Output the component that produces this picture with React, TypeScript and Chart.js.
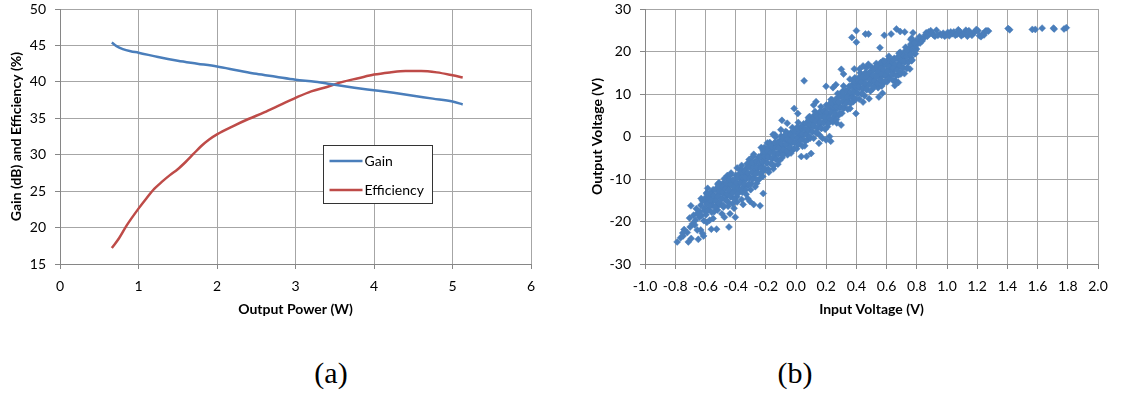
import React, { useEffect, useRef } from 'react';
import { Chart, registerables } from 'chart.js';

Chart.register(...registerables);

const FONT = "Lato, 'Open Sans', sans-serif";

// ---------- Chart (a) data ----------
const gainPower = [0.66, 0.72, 0.8, 0.9, 1.0, 1.25, 1.5, 1.75, 2.0, 2.25, 2.5, 2.75, 3.0, 3.25, 3.5, 3.75, 4.0, 4.25, 4.5, 4.75, 5.0, 5.13];
const gainDb = [45.4, 44.9, 44.5, 44.2, 44.0, 43.4, 42.9, 42.5, 42.1, 41.6, 41.1, 40.7, 40.3, 40.0, 39.6, 39.2, 38.85, 38.5, 38.1, 37.7, 37.3, 36.9];
const effPower = [0.66, 0.75, 0.85, 1.0, 1.1, 1.2, 1.3, 1.4, 1.5, 1.6, 1.7, 1.8, 1.9, 2.0, 2.2, 2.4, 2.6, 2.8, 3.0, 3.2, 3.4, 3.6, 3.8, 4.0, 4.2, 4.4, 4.6, 4.8, 5.0, 5.13];
const efficiencyPct = [17.2, 18.5, 20.3, 22.6, 24.0, 25.3, 26.3, 27.2, 28.0, 29.0, 30.1, 31.2, 32.1, 32.8, 33.9, 34.9, 35.8, 36.8, 37.8, 38.7, 39.3, 40.0, 40.5, 41.0, 41.3, 41.5, 41.5, 41.3, 40.9, 40.6];
const powerTicks = [0, 1, 2, 3, 4, 5, 6];
const gainTicks = [15, 20, 25, 30, 35, 40, 45, 50];
const seriesNamesA = ['Gain', 'Efficiency'];

// ---------- Chart (b) data ----------
const inputTicks = [-1.0, -0.8, -0.6, -0.4, -0.2, 0.0, 0.2, 0.4, 0.6, 0.8, 1.0, 1.2, 1.4, 1.6, 1.8, 2.0];
const outputTicks = [-30, -20, -10, 0, 10, 20, 30];
const scatterPoints: [number, number][] = [
  // lower tail
  [-0.787, -24.8], [-0.764, -23.8], [-0.748, -23.4], [-0.741, -21.9], [-0.713, -24.8], [-0.694, -24.0], [-0.701, -21.3], [-0.685, -20.5],
  [-0.666, -19.7], [-0.654, -22.0], [-0.631, -22.0], [-0.619, -22.8], [-0.612, -23.4], [-0.647, -24.2], [-0.678, -18.5], [-0.654, -18.1],
  [-0.636, -17.7], [-0.696, -16.3], [-0.561, -21.8], [-0.526, -21.8], [-0.444, -21.3], [-0.402, -19.0], [-0.474, -19.0], [-0.437, -18.2],
  [-0.607, -17.4], [-0.631, -16.2], [-0.619, -15.1], [-0.596, -14.7], [-0.572, -19.7], [-0.549, -19.3], [-0.238, -16.3], [-0.280, -16.0],
  [-0.304, -15.3], [-0.217, -13.4], [-0.491, -18.2], [-0.72, -22.6], [-0.67, -20.8], [-0.64, -19.0], [-0.625, -18.6], [-0.66, -17.0],
  [-0.628, -14.6], [-0.61, -19.8], [-0.59, -20.2], [-0.75, -22.7], [-0.705, -19.2],
  // lower side of band
  [-0.48, -16.6], [-0.45, -16.4], [-0.42, -15.8], [-0.39, -15.4], [-0.36, -14.8], [-0.33, -13.6], [-0.3, -12.5], [-0.27, -11.8],
  [-0.52, -17.3], [-0.41, -16.9], [-0.35, -16.0], [-0.32, -14.6], [-0.18, -8.4], [-0.15, -7.6], [-0.12, -6.5], [-0.22, -9.4], [-0.26, -11.0],
  // upper side of band
  [-0.455, -9.2], [-0.43, -8.6], [-0.39, -7.4], [-0.36, -6.8], [-0.31, -5.4], [-0.28, -4.2], [-0.23, -2.6], [-0.19, -1.5], [-0.14, 0.4], [-0.1, 1.6],
  // main band
  [-0.596, -18.4], [-0.608, -16.9], [-0.590, -15.6], [-0.603, -14.5], [-0.593, -13.3],
  [-0.581, -17.2], [-0.566, -15.7], [-0.577, -14.5], [-0.570, -13.3], [-0.585, -12.2],
  [-0.542, -17.7], [-0.554, -16.2], [-0.547, -15.0], [-0.559, -13.7], [-0.549, -12.5],
  [-0.521, -16.3], [-0.533, -14.8], [-0.515, -13.5], [-0.528, -12.4], [-0.518, -11.2],
  [-0.506, -16.0], [-0.491, -14.5], [-0.502, -13.2], [-0.495, -12.1], [-0.510, -10.9],
  [-0.467, -14.9], [-0.479, -13.4], [-0.472, -12.2], [-0.484, -11.0], [-0.474, -9.9],
  [-0.446, -15.5], [-0.458, -14.0], [-0.440, -12.8], [-0.453, -11.5], [-0.443, -10.3],
  [-0.431, -14.2], [-0.416, -12.7], [-0.427, -11.4], [-0.420, -10.3], [-0.435, -9.1],
  [-0.392, -14.2], [-0.404, -12.7], [-0.397, -11.4], [-0.409, -10.3], [-0.399, -9.1],
  [-0.371, -12.8], [-0.383, -11.3], [-0.365, -10.1], [-0.378, -8.9], [-0.368, -7.8],
  [-0.356, -13.1], [-0.341, -11.6], [-0.352, -10.4], [-0.345, -9.1], [-0.360, -7.9],
  [-0.317, -11.5], [-0.329, -10.0], [-0.322, -8.7], [-0.334, -7.6], [-0.324, -6.4],
  [-0.296, -11.1], [-0.308, -9.6], [-0.290, -8.3], [-0.303, -7.2], [-0.293, -6.0],
  [-0.281, -9.7], [-0.266, -8.2], [-0.277, -7.0], [-0.270, -5.8], [-0.285, -4.7],
  [-0.242, -10.0], [-0.254, -8.5], [-0.247, -7.3], [-0.259, -6.0], [-0.249, -4.8],
  [-0.221, -8.3], [-0.233, -6.8], [-0.215, -5.5], [-0.228, -4.4], [-0.218, -3.2],
  [-0.206, -7.7], [-0.191, -6.2], [-0.202, -4.9], [-0.195, -3.8], [-0.210, -2.6],
  [-0.167, -6.4], [-0.179, -4.9], [-0.172, -3.7], [-0.184, -2.5], [-0.174, -1.4],
  [-0.146, -6.8], [-0.158, -5.3], [-0.140, -4.1], [-0.153, -2.8], [-0.143, -1.6],
  [-0.131, -5.3], [-0.116, -3.8], [-0.127, -2.5], [-0.120, -1.4], [-0.135, -0.2],
  [-0.092, -5.0], [-0.104, -3.5], [-0.097, -2.2], [-0.109, -1.1], [-0.099, 0.1],
  [-0.071, -3.8], [-0.083, -2.3], [-0.065, -1.1], [-0.078, 0.1], [-0.068, 1.2],
  [-0.056, -4.3], [-0.041, -2.8], [-0.052, -1.6], [-0.045, -0.3], [-0.060, 0.9],
  [-0.017, -3.0], [-0.029, -1.5], [-0.022, -0.2], [-0.034, 0.9], [-0.024, 2.1],
  [0.004, -2.9], [-0.008, -1.4], [0.010, -0.1], [-0.003, 1.0], [0.007, 2.2],
  [0.019, -1.7], [0.034, -0.2], [0.023, 1.0], [0.030, 2.2], [0.015, 3.3],
  [0.058, -2.2], [0.046, -0.7], [0.053, 0.5], [0.041, 1.8], [0.051, 3.0],
  [0.079, -0.7], [0.067, 0.8], [0.085, 2.1], [0.072, 3.2], [0.082, 4.4],
  [0.094, -0.4], [0.109, 1.1], [0.098, 2.4], [0.105, 3.5], [0.090, 4.7],
  [0.133, 0.9], [0.121, 2.4], [0.128, 3.6], [0.116, 4.8], [0.126, 5.9],
  [0.154, 0.4], [0.142, 1.9], [0.160, 3.1], [0.147, 4.4], [0.157, 5.6],
  [0.169, 1.9], [0.184, 3.4], [0.173, 4.7], [0.180, 5.8], [0.165, 7.0],
  [0.208, 2.3], [0.196, 3.8], [0.203, 5.1], [0.191, 6.2], [0.201, 7.4],
  [0.229, 3.7], [0.217, 5.2], [0.235, 6.4], [0.222, 7.6], [0.232, 8.7],
  [0.244, 3.4], [0.259, 4.9], [0.248, 6.1], [0.255, 7.4], [0.240, 8.6],
  [0.283, 5.0], [0.271, 6.5], [0.278, 7.8], [0.266, 8.9], [0.276, 10.1],
  [0.304, 5.5], [0.292, 7.0], [0.310, 8.3], [0.297, 9.4], [0.307, 10.6],
  [0.319, 6.9], [0.334, 8.4], [0.323, 9.6], [0.330, 10.8], [0.315, 11.9],
  [0.358, 6.6], [0.346, 8.1], [0.353, 9.3], [0.341, 10.6], [0.351, 11.8],
  [0.379, 8.2], [0.367, 9.7], [0.385, 11.0], [0.372, 12.1], [0.382, 13.3],
  [0.394, 8.7], [0.409, 10.2], [0.398, 11.5], [0.405, 12.6], [0.390, 13.8],
  [0.433, 10.0], [0.421, 11.5], [0.428, 12.7], [0.416, 13.9], [0.426, 15.0],
  [0.454, 9.6], [0.442, 11.1], [0.460, 12.3], [0.447, 13.6], [0.457, 14.8],
  [0.469, 11.0], [0.484, 12.5], [0.473, 13.8], [0.480, 14.9], [0.465, 16.1],
  [0.508, 11.2], [0.496, 12.7], [0.503, 14.0], [0.491, 15.1], [0.501, 16.3],
  [0.529, 12.2], [0.517, 13.7], [0.535, 14.9], [0.522, 16.1], [0.532, 17.2],
  [0.544, 11.5], [0.559, 13.0], [0.548, 14.2], [0.555, 15.5], [0.540, 16.7],
  [0.583, 12.7], [0.571, 14.2], [0.578, 15.5], [0.566, 16.6], [0.576, 17.8],
  [0.604, 12.9], [0.592, 14.4], [0.610, 15.7], [0.597, 16.8], [0.607, 18.0],
  [0.619, 13.9], [0.634, 15.4], [0.623, 16.6], [0.630, 17.8], [0.615, 18.9],
  [0.658, 13.2], [0.646, 14.7], [0.653, 15.9], [0.641, 17.2], [0.651, 18.4],
  [0.679, 14.5], [0.667, 16.0], [0.685, 17.3], [0.672, 18.4], [0.682, 19.6],
  [0.694, 14.7], [0.709, 16.2], [0.698, 17.5], [0.705, 18.6], [0.690, 19.8],
  [0.733, 16.0], [0.721, 17.5], [0.728, 18.7], [0.716, 19.9], [0.726, 21.0],
  [0.754, 15.9], [0.742, 17.4], [0.760, 18.6], [0.747, 19.9], [0.757, 21.1],
  [0.769, 18.0], [0.784, 19.5], [0.773, 20.8], [0.780, 21.9], [0.765, 23.1],
  [0.798, 20.6], [0.806, 21.8], [0.795, 22.6], [0.810, 22.4],
  [0.822, 22.0], [0.830, 23.0], [0.818, 23.5], [0.835, 22.5],
  [0.848, 23.2], [0.856, 23.9], [0.862, 24.4], [0.870, 23.6], [0.877, 24.6], [0.884, 24.2], [0.892, 24.9], [0.900, 24.4],
  [0.910, 23.9], [0.920, 23.6], [0.930, 25.0], [0.940, 23.8],
  // main band, interleaved columns
  [-0.585, -17.4], [-0.592, -15.9], [-0.582, -14.6], [-0.590, -13.5],
  [-0.568, -16.4], [-0.561, -14.9], [-0.564, -13.5], [-0.558, -17.8],
  [-0.537, -16.6], [-0.532, -15.2], [-0.544, -13.9], [-0.536, -12.6],
  [-0.510, -15.6], [-0.517, -14.1], [-0.507, -12.8], [-0.515, -11.7],
  [-0.493, -14.7], [-0.486, -13.2], [-0.489, -11.8], [-0.483, -16.1],
  [-0.462, -15.0], [-0.457, -13.6], [-0.469, -12.3], [-0.461, -11.0],
  [-0.435, -14.1], [-0.442, -12.6], [-0.432, -11.3], [-0.440, -10.2],
  [-0.418, -13.3], [-0.411, -11.8], [-0.414, -10.4], [-0.408, -14.7],
  [-0.387, -13.5], [-0.382, -12.1], [-0.394, -10.8], [-0.386, -9.5],
  [-0.360, -12.3], [-0.367, -10.8], [-0.357, -9.5], [-0.365, -8.4],
  [-0.343, -11.1], [-0.336, -9.6], [-0.339, -8.2], [-0.333, -12.5],
  [-0.312, -11.2], [-0.307, -9.8], [-0.319, -8.5], [-0.311, -7.2],
  [-0.285, -10.0], [-0.292, -8.5], [-0.282, -7.2], [-0.290, -6.1],
  [-0.268, -8.8], [-0.261, -7.3], [-0.264, -5.9], [-0.258, -10.2],
  [-0.237, -8.8], [-0.232, -7.4], [-0.244, -6.1], [-0.236, -4.8],
  [-0.210, -7.5], [-0.217, -6.0], [-0.207, -4.7], [-0.215, -3.6],
  [-0.193, -6.3], [-0.186, -4.8], [-0.189, -3.4], [-0.183, -7.7],
  [-0.162, -6.4], [-0.157, -5.0], [-0.169, -3.7], [-0.161, -2.4],
  [-0.135, -5.3], [-0.142, -3.8], [-0.132, -2.5], [-0.140, -1.4],
  [-0.118, -4.2], [-0.111, -2.7], [-0.114, -1.3], [-0.108, -5.6],
  [-0.087, -4.4], [-0.082, -3.0], [-0.094, -1.7], [-0.086, -0.4],
  [-0.060, -3.4], [-0.067, -1.9], [-0.057, -0.6], [-0.065, 0.5],
  [-0.043, -2.5], [-0.036, -1.0], [-0.039, 0.5], [-0.033, -3.9],
  [-0.012, -2.8], [-0.007, -1.4], [-0.019, -0.1], [-0.011, 1.2],
  [0.015, -1.9], [0.008, -0.4], [0.018, 0.9], [0.010, 2.0],
  [0.032, -0.9], [0.040, 0.6], [0.037, 2.0], [0.043, -2.3],
  [0.063, -1.1], [0.068, 0.4], [0.056, 1.7], [0.064, 3.0],
  [0.090, 0.0], [0.083, 1.5], [0.093, 2.8], [0.085, 3.9],
  [0.107, 1.1], [0.114, 2.6], [0.111, 4.0], [0.117, -0.4],
  [0.138, 0.9], [0.143, 2.3], [0.131, 3.6], [0.139, 4.9],
  [0.165, 2.0], [0.158, 3.5], [0.168, 4.8], [0.160, 5.9],
  [0.182, 3.1], [0.190, 4.6], [0.187, 6.0], [0.193, 1.7],
  [0.213, 3.0], [0.218, 4.4], [0.206, 5.7], [0.214, 7.0],
  [0.240, 4.2], [0.233, 5.7], [0.243, 7.0], [0.235, 8.1],
  [0.257, 5.4], [0.265, 6.9], [0.262, 8.3], [0.268, 4.0],
  [0.288, 5.4], [0.293, 6.8], [0.281, 8.1], [0.289, 9.4],
  [0.315, 6.6], [0.308, 8.1], [0.318, 9.4], [0.310, 10.5],
  [0.332, 7.8], [0.340, 9.3], [0.337, 10.7], [0.343, 6.4],
  [0.363, 7.8], [0.368, 9.2], [0.356, 10.5], [0.364, 11.8],
  [0.390, 9.0], [0.383, 10.5], [0.393, 11.8], [0.385, 12.9],
  [0.407, 10.2], [0.415, 11.7], [0.412, 13.1], [0.418, 8.8],
  [0.438, 10.1], [0.443, 11.5], [0.431, 12.8], [0.439, 14.1],
  [0.465, 11.1], [0.458, 12.6], [0.468, 13.9], [0.460, 15.0],
  [0.482, 12.1], [0.490, 13.6], [0.487, 15.0], [0.493, 10.7],
  [0.513, 11.7], [0.518, 13.1], [0.506, 14.4], [0.514, 15.7],
  [0.540, 12.5], [0.533, 14.0], [0.543, 15.3], [0.535, 16.4],
  [0.557, 13.3], [0.565, 14.8], [0.562, 16.2], [0.568, 11.9],
  [0.588, 13.0], [0.593, 14.4], [0.581, 15.7], [0.589, 17.0],
  [0.615, 13.8], [0.608, 15.3], [0.618, 16.6], [0.610, 17.7],
  [0.632, 14.6], [0.640, 16.1], [0.637, 17.5], [0.643, 13.2],
  [0.663, 14.3], [0.668, 15.7], [0.656, 17.0], [0.664, 18.3],
  [0.690, 15.2], [0.683, 16.7], [0.693, 18.0], [0.685, 19.1],
  [0.707, 16.2], [0.715, 17.7], [0.712, 19.1], [0.718, 14.8],
  [0.738, 16.2], [0.743, 17.6], [0.731, 18.9], [0.739, 20.2],
  [0.765, 17.8], [0.758, 19.3], [0.768, 20.6], [0.760, 21.7],
  [0.790, 19.5], [0.786, 21.0], [0.792, 22.1], [0.788, 20.2],
  // saturation
  [0.955, 24.1], [0.965, 23.8], [0.975, 24.3], [0.985, 23.6], [0.995, 23.9], [1.005, 24.5], [1.015, 23.7], [1.025, 24.6],
  [1.035, 24.2], [1.045, 24.6], [1.055, 23.8], [1.065, 24.0], [1.075, 25.1], [1.085, 24.7], [1.095, 23.7], [1.105, 24.0],
  [1.115, 24.4], [1.125, 25.0], [1.135, 23.6], [1.145, 24.9], [1.155, 24.2], [1.165, 23.8], [1.175, 24.4], [1.185, 24.6],
  [1.195, 25.2], [1.205, 24.9], [1.215, 23.7], [1.225, 23.5], [1.235, 24.1], [1.245, 23.9], [1.255, 24.8], [1.265, 24.9],
  [1.275, 24.8], [1.405, 25.4], [1.415, 25.1], [1.565, 25.2], [1.585, 25.2], [1.630, 25.5], [1.705, 25.5], [1.710, 25.3],
  [1.775, 25.3], [1.790, 25.6],
  // upper outliers
  [0.37, 23.3], [0.40, 24.9], [0.40, 22.2], [0.46, 24.1], [0.48, 24.1], [0.556, 20.9], [0.585, 23.8], [0.63, 24.1],
  [0.665, 25.3], [0.69, 24.7], [0.72, 24.6], [0.775, 24.4], [0.76, 22.8], [0.78, 22.0],
  [0.054, 13.1], [0.30, 15.8], [0.245, 11.5], [0.264, 12.2], [0.199, 11.8], [0.117, 7.4], [0.133, 8.2], [-0.012, 6.6],
  [0.012, 5.4], [-0.093, 3.8], [-0.152, 0.5], [-0.058, 3.1], [0.386, 15.9], [0.421, 15.9], [0.315, 14.7], [0.357, 13.5],
  [0.444, 16.6], [0.479, 17.0], [0.561, 17.4], [0.584, 17.7], [0.643, 18.1],
  // lower outliers
  [0.035, -4.7], [0.07, -4.7], [0.1, -4.0], [0.199, -0.8], [0.23, -1.1], [0.299, 2.7], [0.27, 3.2], [0.152, -1.6],
  [0.175, -0.4], [0.222, 0.0], [0.397, 5.4], [0.444, 8.1], [0.484, 8.9], [0.549, 9.3], [0.573, 10.2], [0.654, 12.0], [0.678, 12.7],
];

const GRID = '#a6a6a6';
const AXIS = '#868686';

const boxLegend = {
  id: 'boxLegend',
  afterDraw(chart: any) {
    const { ctx, chartArea } = chart;
    const bx = Math.round(chartArea.left + 263) + 0.5;
    const by = Math.round(chartArea.top + 135.5) + 0.5;
    const bw = 109;
    const bh = 58;
    ctx.save();
    ctx.fillStyle = '#ffffff';
    ctx.fillRect(bx, by, bw, bh);
    ctx.strokeStyle = '#333333';
    ctx.lineWidth = 1;
    ctx.strokeRect(bx, by, bw, bh);
    ctx.font = `14px ${FONT}`;
    ctx.textBaseline = 'middle';
    ctx.textAlign = 'left';
    chart.data.datasets.forEach((ds: any, i: number) => {
      const ly = by + 15.5 + i * 29;
      ctx.strokeStyle = ds.borderColor;
      ctx.lineWidth = 2.5;
      ctx.beginPath();
      ctx.moveTo(bx + 6, ly);
      ctx.lineTo(bx + 39, ly);
      ctx.stroke();
      ctx.fillStyle = '#000';
      ctx.fillText(ds.label, bx + 41, ly + 0.5);
    });
    ctx.restore();
  },
};

function axisBase(tickValues: number[], fmt: (v: number) => string, titleText: string, isX: boolean, titlePad: number, size: number) {
  return {
    type: 'linear',
    min: tickValues[0],
    max: tickValues[tickValues.length - 1],
    afterBuildTicks: (s: any) => {
      s.ticks = tickValues.map((v) => ({ value: v }));
    },
    afterFit: (s: any) => {
      if (isX) s.height = size;
      else s.width = size;
      s.paddingTop = 0;
      s.paddingBottom = 0;
      s.paddingLeft = 0;
      s.paddingRight = 0;
    },
    grid: { color: GRID, lineWidth: 1, drawTicks: true, tickLength: 5, tickColor: AXIS },
    border: { color: AXIS, width: 1 },
    ticks: {
      color: '#000',
      font: { family: FONT, size: 14 },
      padding: 9,
      maxRotation: 0,
      minRotation: 0,
      autoSkip: false,
      callback: (v: any) => fmt(Number(v)),
    },
    title: {
      display: true,
      text: titleText,
      color: '#000',
      font: { family: FONT, size: 14, weight: 'bold' },
      padding: isX ? { top: 0, bottom: titlePad } : { top: titlePad, bottom: 0 },
    },
  };
}

function ChartA() {
  const ref = useRef<HTMLCanvasElement>(null);
  useEffect(() => {
    const chart = new Chart(ref.current as HTMLCanvasElement, {
      type: 'scatter',
      data: {
        datasets: [
          {
            label: seriesNamesA[0],
            data: gainPower.map((x, i) => ({ x, y: gainDb[i] })),
            showLine: true,
            borderColor: '#4a7ebb',
            backgroundColor: '#4a7ebb',
            borderWidth: 2.5,
            pointRadius: 0,
            cubicInterpolationMode: 'monotone',
          },
          {
            label: seriesNamesA[1],
            data: effPower.map((x, i) => ({ x, y: efficiencyPct[i] })),
            showLine: true,
            borderColor: '#be4b48',
            backgroundColor: '#be4b48',
            borderWidth: 2.5,
            pointRadius: 0,
            cubicInterpolationMode: 'monotone',
          },
        ],
      },
      options: {
        animation: false,
        responsive: false,
        devicePixelRatio: 1,
        layout: { padding: { left: 0, right: 29, top: 9, bottom: 0 } },
        plugins: { legend: { display: false }, tooltip: { enabled: false } },
        scales: {
          x: axisBase(powerTicks, (v) => String(v), 'Output Power (W)', true, 12, 66) as any,
          y: axisBase(gainTicks, (v) => String(v), 'Gain (dB) and Efficiency (%)', false, 7.6, 60) as any,
        },
      },
      plugins: [boxLegend],
    } as any);
    return () => chart.destroy();
  }, []);
  return <canvas ref={ref} width={560} height={330} style={{ position: 'absolute', left: 0, top: 0, width: 560, height: 330 }} />;
}

function ChartB() {
  const ref = useRef<HTMLCanvasElement>(null);
  useEffect(() => {
    const chart = new Chart(ref.current as HTMLCanvasElement, {
      type: 'scatter',
      data: {
        datasets: [
          {
            label: 'Output Voltage',
            data: scatterPoints.map(([x, y]) => ({ x, y })),
            pointStyle: 'rectRot',
            pointRadius: 3.5,
            borderWidth: 0.5,
            backgroundColor: '#4a7ebb',
            borderColor: '#4a7ebb',
          },
        ],
      },
      options: {
        animation: false,
        responsive: false,
        devicePixelRatio: 1,
        layout: { padding: { left: 0, right: 34, top: 9, bottom: 0 } },
        plugins: { legend: { display: false }, tooltip: { enabled: false } },
        scales: {
          x: axisBase(inputTicks, (v) => v.toFixed(1), 'Input Voltage (V)', true, 12, 66) as any,
          y: axisBase(outputTicks, (v) => String(v), 'Output Voltage (V)', false, 28.6, 85) as any,
        },
      },
    } as any);
    return () => chart.destroy();
  }, []);
  return <canvas ref={ref} width={572} height={330} style={{ position: 'absolute', left: 560, top: 0, width: 572, height: 330 }} />;
}

const captionStyle: React.CSSProperties = {
  position: 'absolute',
  top: 358,
  width: 100,
  textAlign: 'center',
  fontFamily: "'Liberation Serif', 'Times New Roman', serif",
  fontSize: 30,
  lineHeight: '30px',
  color: '#000',
};

export default function App() {
  return (
    <div style={{ position: 'absolute', left: 0, top: 0, width: 1132, height: 399, background: '#fff', overflow: 'hidden' }}>
      <ChartA />
      <ChartB />
      <div style={{ ...captionStyle, left: 331 - 50 }}>(a)</div>
      <div style={{ ...captionStyle, left: 795 - 50 }}>(b)</div>
    </div>
  );
}
